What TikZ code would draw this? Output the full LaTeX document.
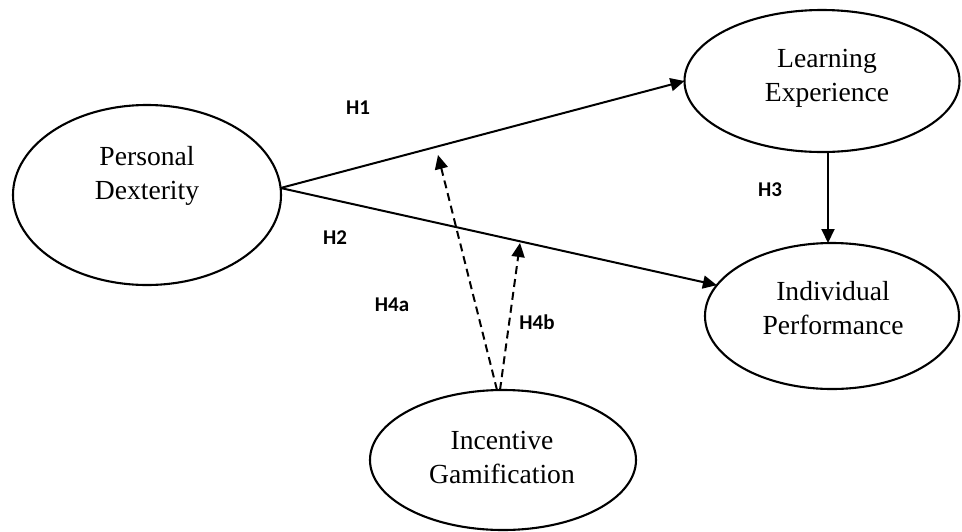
\documentclass[tikz,border=0pt]{standalone}
\usepackage{fontspec}
\setmainfont{Liberation Serif}
\newfontfamily\lblfont{Carlito}
\usetikzlibrary{shapes.geometric,arrows.meta}
\begin{document}
\begin{tikzpicture}[x=1pt,y=-1pt,
  oval/.style={draw,ellipse,line width=2.1pt,inner sep=0pt,outer sep=0pt},
  ovaltext/.style={align=center,font=\fontsize{27.6}{34}\selectfont,inner sep=0pt},
  hyp/.style={font=\lblfont\bfseries\fontsize{21}{24}\selectfont,inner sep=0pt},
  conn/.style={line width=2pt,-{Triangle[length=14pt,width=13pt]}},
  modline/.style={conn,dash pattern=on 8pt off 5pt}]
\useasboundingbox (0,0) rectangle (962,531);
% ellipses
\node[oval,minimum width=268pt,minimum height=180pt] (pd) at (147,195) {};
\node[oval,minimum width=275pt,minimum height=142pt] (le) at (822,81) {};
\node[oval,minimum width=254pt,minimum height=146pt] (ip) at (832,316) {};
\node[oval,minimum width=266pt,minimum height=140pt] (ig) at (503,460) {};
% texts
\node[ovaltext] (pdt) at (147,176) {Personal\\Dexterity};
\node[ovaltext] (let) at (827,78) {Learning\\Experience};
\node[ovaltext] (ipt) at (833,308) {Individual\\Performance};
\node[ovaltext] (igt) at (502,457) {Incentive\\Gamification};
% hypothesis labels
\node[hyp] (h1) at (358,108) {H1};
\node[hyp] (h2) at (335,238) {H2};
\node[hyp] (h3) at (770,190) {H3};
\node[hyp] (h4a) at (392,305) {H4a};
\node[hyp] (h4b) at (537,322) {H4b};
% connectors
\coordinate (h3x) at (828,0);
\coordinate (m1) at (438,155);
\coordinate (m2) at (520,243);
\draw[conn] (pd.3) -- (le.west);
\draw[conn] (pd.3) -- (ip.165);
\draw[conn] (le.south -| h3x) -- (ip.north -| h3x);
\draw[modline] ([xshift=-6pt]ig.north) -- (m1);
\draw[modline] ([xshift=-3pt]ig.north) -- (m2);
\end{tikzpicture}
\end{document}
